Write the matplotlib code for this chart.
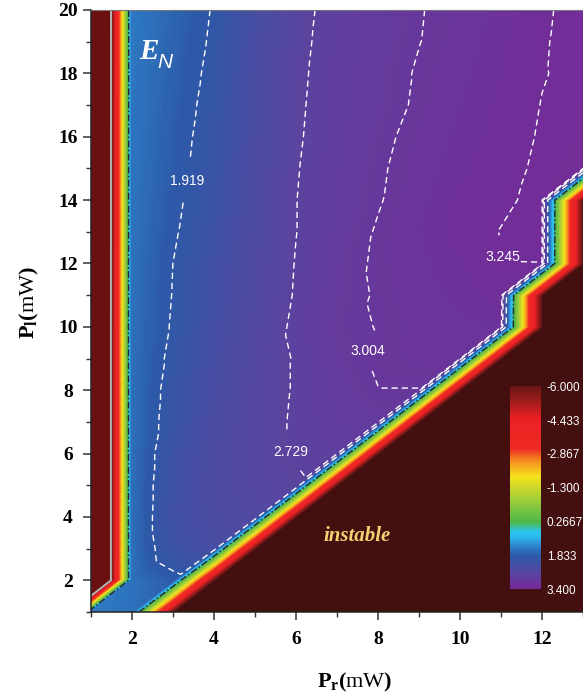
import numpy as np
import matplotlib
matplotlib.use("Agg")
import matplotlib.pyplot as plt
import matplotlib.tri as mtri
from matplotlib.colors import LinearSegmentedColormap, Normalize
from matplotlib.cm import ScalarMappable
from matplotlib.ticker import MultipleLocator

plt.rcParams['font.family'] = ['Liberation Serif', 'DejaVu Serif']
plt.rcParams['mathtext.fontset'] = 'custom'
plt.rcParams['mathtext.rm'] = 'Liberation Serif'
plt.rcParams['mathtext.bf'] = 'Liberation Serif:bold'
plt.rcParams['mathtext.it'] = 'Liberation Serif:italic'
plt.rcParams['lines.dashed_pattern'] = [4.5, 2.8]
plt.rcParams['lines.dashdot_pattern'] = [5, 1.6, 1.2, 1.6]

# simulation grid (mW)
pr_mw = [1, 2, 3, 4, 5, 6, 7, 8, 9, 10, 11, 12, 13]
pl_mw = [1, 2, 3, 4, 5, 6, 7, 8, 9, 10, 11, 12, 13, 14, 15, 16, 17, 18, 19, 20]

U = -6.35   # instable region (bottom right)
L = -14.0   # instable strip at Pr = 1

# E_N, one row per Pl value, columns follow pr_mw
en_rows = [
    [1.50, 1.60, U, U, U, U, U, U, U, U, U, U, U],
    [L, 1.58, 1.82, U, U, U, U, U, U, U, U, U, U],
    [L, 1.62, 2.15, 2.35, U, U, U, U, U, U, U, U, U],
    [L, 1.62, 2.22, 2.42, 2.55, U, U, U, U, U, U, U, U],
    [L, 1.62, 2.20, 2.45, 2.60, 2.70, U, U, U, U, U, U, U],
    [L, 1.62, 2.16, 2.43, 2.62, 2.745, 2.82, U, U, U, U, U, U],
    [L, 1.62, 2.08, 2.40, 2.62, 2.76, 2.87, 2.92, U, U, U, U, U],
    [L, 1.62, 2.05, 2.35, 2.60, 2.75, 2.90, 3.00, 3.00, U, U, U, U],
    [L, 1.62, 2.00, 2.32, 2.58, 2.75, 2.94, 3.03, 3.06, 3.08, U, U, U],
    [L, 1.62, 1.95, 2.28, 2.55, 2.78, 2.96, 3.01, 3.07, 3.10, 3.12, U, U],
    [L, 1.60, 1.93, 2.25, 2.52, 2.75, 2.94, 3.02, 3.09, 3.14, 3.20, U, U],
    [L, 1.60, 1.92, 2.22, 2.50, 2.74, 2.93, 3.03, 3.10, 3.17, 3.243, 3.244, U],
    [L, 1.58, 1.88, 2.17, 2.47, 2.725, 2.90, 3.02, 3.12, 3.20, 3.249, 3.27, U],
    [L, 1.58, 1.85, 2.12, 2.45, 2.725, 2.88, 2.99, 3.10, 3.19, 3.225, 3.275, U],
    [L, 1.57, 1.82, 2.08, 2.43, 2.715, 2.87, 2.98, 3.08, 3.16, 3.21, 3.265, 3.285],
    [L, 1.56, 1.80, 2.05, 2.41, 2.70, 2.86, 2.96, 3.06, 3.14, 3.20, 3.255, 3.28],
    [L, 1.55, 1.78, 2.02, 2.39, 2.69, 2.85, 2.93, 3.03, 3.12, 3.19, 3.248, 3.275],
    [L, 1.54, 1.76, 1.99, 2.37, 2.68, 2.84, 2.93, 3.02, 3.10, 3.17, 3.24, 3.27],
    [L, 1.53, 1.74, 1.96, 2.35, 2.665, 2.83, 2.91, 3.00, 3.08, 3.16, 3.238, 3.275],
    [L, 1.52, 1.72, 1.94, 2.33, 2.65, 2.82, 2.90, 2.995, 3.06, 3.15, 3.235, 3.27],
]

contour_levels = [1.919, 2.729, 3.004, 3.245]
label_spots = [(3.3, 14.6), (5.85, 6.05), (7.85, 9.2), (11.0, 12.2)]
cbar_ticks = [-6.0, -4.433, -2.867, -1.3, 0.2667, 1.833, 3.4]
cbar_labels = ["-6.000", "-4.433", "-2.867", "-1.300", "0.2667", "1.833", "3.400"]

cmap_stops = [
    (-6.4, '#3c0e0e'), (-6.0, '#6b1616'), (-5.3, '#a01c1c'), (-4.5, '#ec2024'),
    (-3.1, '#ee2a24'), (-2.6, '#f5851f'), (-1.8, '#f4e21c'), (-1.0, '#b5d334'),
    (-0.3, '#7cc242'), (0.3, '#4db848'), (0.75, '#2dc3f0'), (1.0, '#2db8ee'),
    (1.4, '#2e85cc'), (1.85, '#2c5aa8'), (2.6, '#5548a0'), (3.4, '#782896'),
]


def make_cmap(lo, hi):
    pts = [((v - lo) / (hi - lo), c) for v, c in cmap_stops if v >= lo]
    return LinearSegmentedColormap.from_list('en', pts, N=512)


# triangulated grid, diagonals running lower-left to upper-right
nx, ny = len(pr_mw), len(pl_mw)
gx, gy = np.meshgrid(pr_mw, pl_mw)
z = np.array(en_rows, dtype=float).ravel()
tris = []
for j in range(ny - 1):
    for i in range(nx - 1):
        k = j * nx + i
        tris.append([k, k + 1, k + nx + 1])
        tris.append([k, k + nx + 1, k + nx])
tri = mtri.Triangulation(gx.ravel(), gy.ravel(), tris)

fig = plt.figure(figsize=(5.83, 6.96), dpi=100)
ax = fig.add_axes([0.1561, 0.1207, 0.8439, 0.865])

cmap = make_cmap(-6.4, 3.4)
cmap.set_under('#6b1010')
levels = np.linspace(-6.4, 3.4, 393)
cf = ax.tricontourf(tri, z, levels=levels, cmap=cmap, extend='min')
cf.set_edgecolor('face')
cf.set_linewidth(0.4)

ax.tricontour(tri, z, levels=[-6.42], colors='#b4b4b4', linewidths=1.4,
              linestyles='solid')
ax.tricontour(tri, z, levels=[0.2667], colors='#262626', linewidths=1.0,
              linestyles='dashdot')
cs = ax.tricontour(tri, z, levels=contour_levels, colors='white',
                   linewidths=1.0, linestyles='dashed')
txts = ax.clabel(cs, fmt='%.3f', manual=label_spots, inline=True,
                 inline_spacing=6, fontsize=10, colors='white')
for t in txts:
    t.set_rotation(0)
    t.set_fontfamily('Liberation Sans')

ax.set_xlim(1, 13)
ax.set_ylim(1, 20)
ax.xaxis.set_major_locator(MultipleLocator(2))
ax.xaxis.set_minor_locator(MultipleLocator(1))
ax.yaxis.set_major_locator(MultipleLocator(2))
ax.yaxis.set_minor_locator(MultipleLocator(1))
ax.tick_params(which='major', direction='out', length=6, width=1.1,
               color='#333333', labelsize=14)
ax.tick_params(which='minor', direction='out', length=3.5, width=1.0,
               color='#333333')
ax.tick_params(axis='x', pad=8)
ax.tick_params(axis='y', pad=10.5)
for lab in ax.get_xticklabels() + ax.get_yticklabels():
    lab.set_fontweight('bold')
for lab in ax.get_yticklabels():
    lab.set_horizontalalignment('center')
for side in ['left', 'bottom']:
    ax.spines[side].set_color('#222222')
    ax.spines[side].set_linewidth(1.1)
ax.spines['top'].set_color('#777777')
ax.spines['right'].set_visible(False)

# labels
ax.text(0.098, 0.918, 'E', transform=ax.transAxes, fontsize=21,
        fontweight='bold', fontstyle='italic', color='white', va='baseline')
ax.text(0.134, 0.904, 'N', transform=ax.transAxes, fontsize=15,
        fontstyle='italic', family='Liberation Sans', color='white',
        va='baseline')
ax.text(7.5, 3.4, 'instable', ha='center', va='center', fontsize=15,
        fontweight='bold', fontstyle='italic', color='#f4d272')

fig.text(0.609, 0.02, r'$\mathbf{P}_{\mathbf{r}}\mathbf{(}\mathrm{mW}\mathbf{)}$',
         ha='center', va='center', fontsize=16)
fig.text(0.05, 0.565, r'$\mathbf{P}_{\mathbf{l}}\mathbf{(}\mathrm{mW}\mathbf{)}$',
         ha='center', va='center', fontsize=16, rotation=90)

# colour scale inside the plot
cax = ax.inset_axes([0.852, 0.038, 0.063, 0.337])
sm = ScalarMappable(norm=Normalize(-6.0, 3.4), cmap=make_cmap(-6.0, 3.4))
cbar = fig.colorbar(sm, cax=cax, ticks=cbar_ticks)
cbar.set_ticklabels(cbar_labels)
cax.invert_yaxis()
cbar.outline.set_visible(False)
cax.tick_params(length=0, pad=4, labelcolor='white', labelsize=8.5)
for lab in cax.get_yticklabels():
    lab.set_fontfamily('Liberation Sans')

fig.savefig('out.png', dpi=100)
